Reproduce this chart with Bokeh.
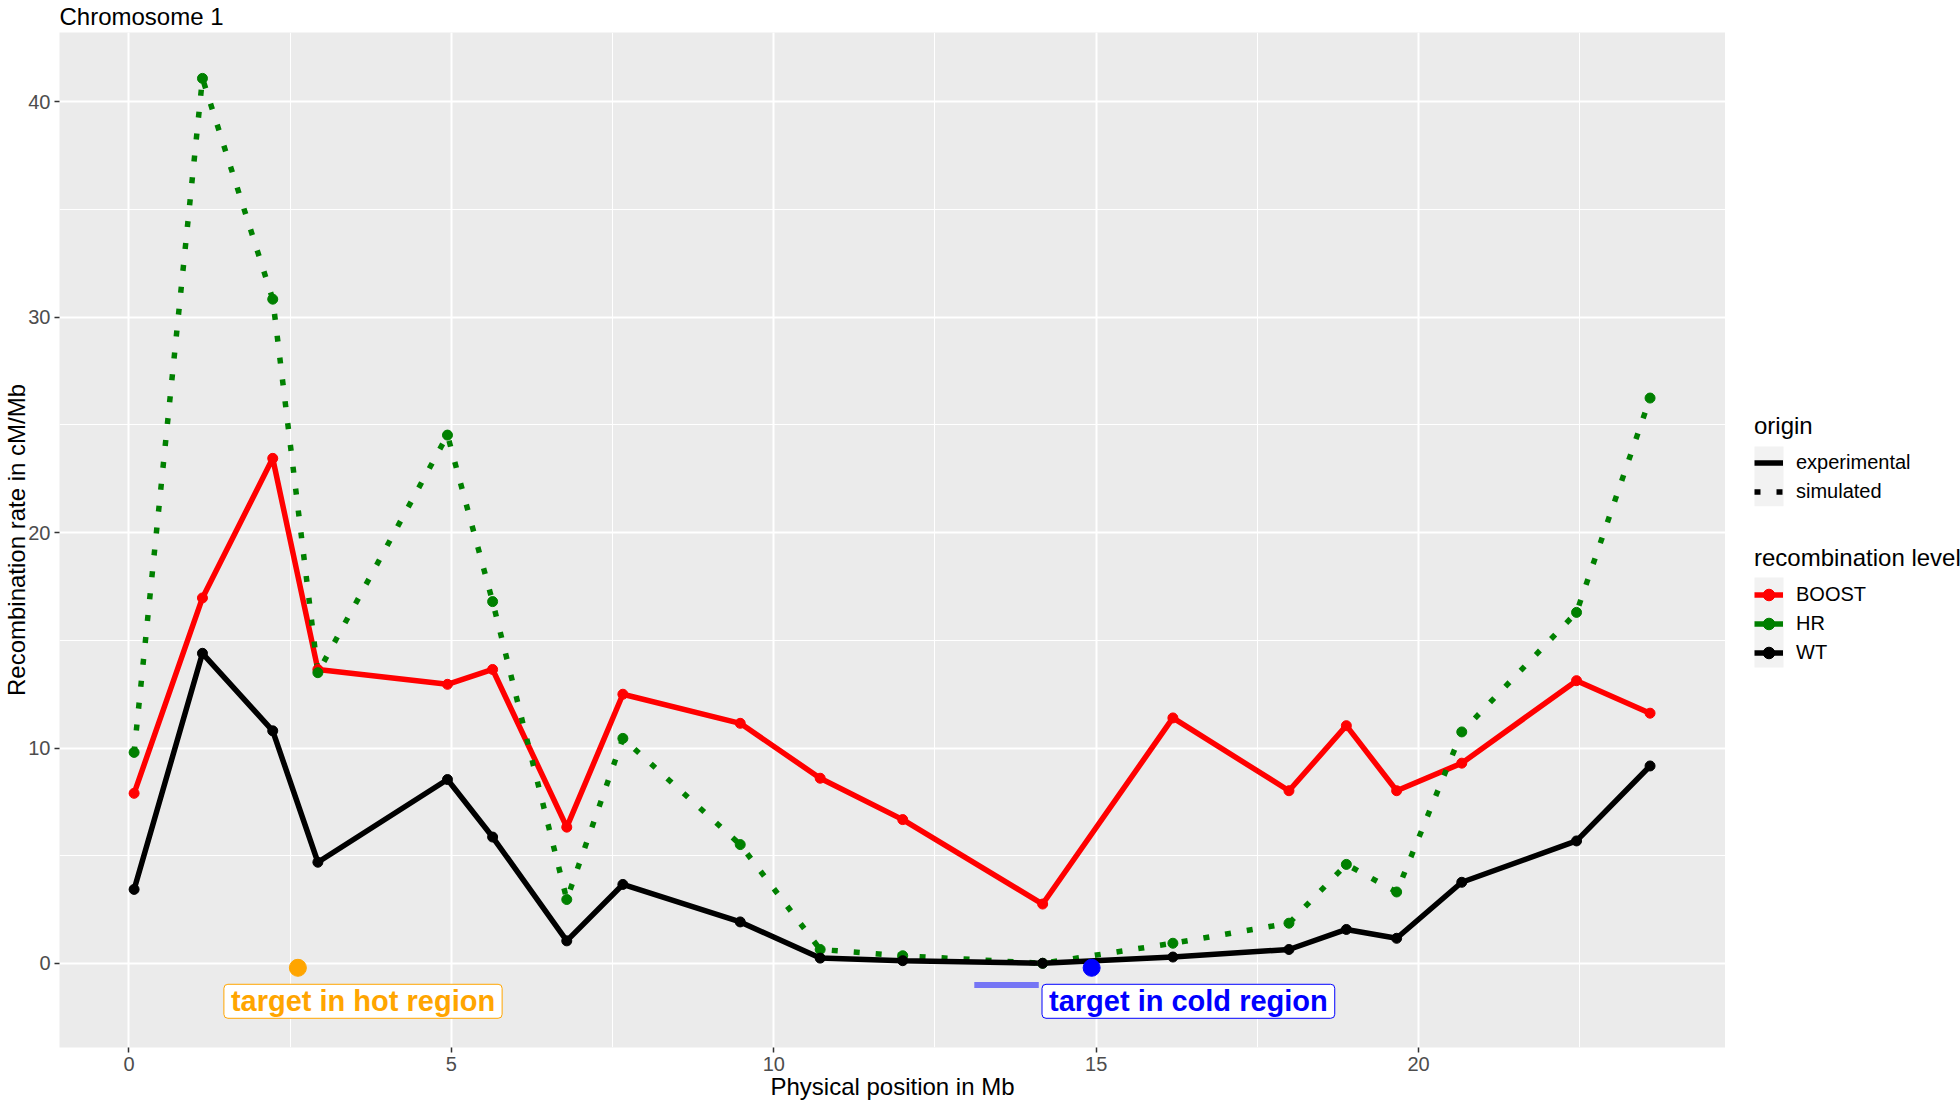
from bokeh.plotting import figure
from bokeh.layouts import row
from bokeh.models import (Range1d, SingleIntervalTicker, Label, Legend, LegendItem,
                          BoxAnnotation)
from bokeh.embed import file_html
from bokeh.resources import INLINE

# ---------------- data ----------------
positions = [0.08, 1.14, 2.23, 2.93, 4.94, 5.64, 6.79, 7.66, 9.48, 10.72, 12.0,
             14.17, 16.19, 17.99, 18.88, 19.66, 20.67, 22.45, 23.59]
boost = [7.9, 16.97, 23.45, 13.65, 12.96, 13.65, 6.33, 12.5, 11.15, 8.6, 6.68,
         2.76, 11.4, 8.02, 11.04, 8.02, 9.3, 13.13, 11.62]
hr = [9.8, 41.09, 30.84, 13.5, 24.53, 16.8, 2.97, 10.45, 5.52, 0.65, 0.36,
      0.01, 0.94, 1.87, 4.6, 3.32, 10.75, 16.3, 26.25]
wt = [3.44, 14.4, 10.8, 4.7, 8.54, 5.87, 1.05, 3.67, 1.93, 0.25, 0.13,
      0.01, 0.3, 0.65, 1.58, 1.17, 3.77, 5.69, 9.17]

level_names = ["BOOST", "HR", "WT"]
origin_names = ["experimental", "simulated"]

hot_target_x = [2.62]
hot_target_y = [-0.2]
cold_target_x = [14.93]
cold_target_y = [-0.2]
cold_segment_x = [13.11, 14.11]
cold_segment_y = [-1.0, -1.0]
hot_label_xy = (3.63, -1.755)
cold_label_xy = (16.43, -1.755)
hot_label_text = "target in hot region"
cold_label_text = "target in cold region"

title_text = "Chromosome 1"
x_title = "Physical position in Mb"
y_title = "Recombination rate in cM/Mb"

# ---------------- main figure ----------------
FONT = "Liberation Sans"
GREEN = "#008000"
LW = 5.5
DOT = "6 16"
BT, BB = 32, 55

p = figure(width=1725, height=1102, x_range=Range1d(-1.077, 24.76), y_range=Range1d(-3.9, 43.22),
           output_backend="svg", toolbar_location=None,
           min_border_left=59, min_border_right=0, min_border_top=BT, min_border_bottom=BB,
           background_fill_color="#ebebeb", border_fill_color="white",
           outline_line_color=None)

p.title.text = title_text
p.title.text_font = FONT
p.title.text_font_size = "24px"
p.title.text_font_style = "normal"
p.title.text_color = "black"
p.title.align = "left"
p.title.vertical_align = "top"
p.title.offset = 0
p.title.standoff = 2

xt = SingleIntervalTicker(interval=5, num_minor_ticks=2)
yt = SingleIntervalTicker(interval=10, num_minor_ticks=2)
p.xaxis.ticker = xt
p.xgrid.ticker = xt
p.yaxis.ticker = yt
p.ygrid.ticker = yt

for g in (p.xgrid, p.ygrid):
    g.grid_line_color = "white"
    g.grid_line_width = 2
    g.minor_grid_line_color = "white"
    g.minor_grid_line_width = 1

for ax, lab in ((p.xaxis, x_title), (p.yaxis, y_title)):
    ax.axis_line_color = None
    ax.major_tick_line_color = "#333333"
    ax.major_tick_line_width = 1.5
    ax.major_tick_out = 5
    ax.major_tick_in = 0
    ax.minor_tick_line_color = None
    ax.major_label_text_font_size = "20px"
    ax.major_label_text_color = "#4d4d4d"
    ax.major_label_text_font = FONT
    ax.major_label_standoff = 4
    ax.axis_label = lab
    ax.axis_label_text_font = FONT
    ax.axis_label_text_font_size = "24px"
    ax.axis_label_text_font_style = "normal"
    ax.axis_label_text_color = "black"
p.xaxis.axis_label_standoff = -1
p.yaxis.axis_label_standoff = -5

# lines
p.line(positions, boost, line_color="red", line_width=LW)
p.line(positions, hr, line_color=GREEN, line_width=LW, line_dash=DOT)
p.line(positions, wt, line_color="black", line_width=LW)
# points
p.scatter(positions, boost, size=10, color="red")
p.scatter(positions, hr, size=10, color=GREEN)
p.scatter(positions, wt, size=10, color="black")

# targets
p.line(cold_segment_x, cold_segment_y, line_color="blue", line_alpha=0.5, line_width=6)
p.scatter(hot_target_x, hot_target_y, size=17, color="orange")
p.scatter(cold_target_x, cold_target_y, size=17, color="blue")

for (lx, ly), txt, col in ((hot_label_xy, hot_label_text, "orange"),
                           (cold_label_xy, cold_label_text, "blue")):
    p.add_layout(Label(x=lx, y=ly, text=txt, text_color=col, text_font=FONT,
                       text_font_style="bold", text_font_size="29px",
                       text_align="center", text_baseline="middle",
                       background_fill_color="white", border_line_color=col,
                       border_line_width=1, padding=(7, 1), border_radius=4))

# ---------------- legend figure ----------------
FB = 1102 - BB  # page y of the (aligned) frame bottom
lf = figure(width=235, height=1102, x_range=Range1d(0, 1), y_range=Range1d(0, 1),
            output_backend="svg", toolbar_location=None,
            x_axis_type=None, y_axis_type=None,
            min_border_left=0, min_border_right=0, min_border_top=BT, min_border_bottom=BB,
            background_fill_color="white", border_fill_color="white",
            outline_line_color=None)
lf.xgrid.visible = False
lf.ygrid.visible = False

KX = 29
for top, bot in ((446, 505.7), (577, 667)):
    lf.add_layout(BoxAnnotation(left=KX, right=KX + 29, bottom=FB - bot, top=FB - top,
                                left_units="screen", right_units="screen",
                                bottom_units="screen", top_units="screen",
                                fill_color="#f2f2f2", fill_alpha=1, line_alpha=0))

off = [-10]
exp_r = lf.line(off, off, line_color="black", line_width=LW)
sim_r = lf.line(off, off, line_color="black", line_width=LW, line_dash=DOT)
lvl_items = []
for name, col in zip(level_names, ["red", GREEN, "black"]):
    lr = lf.line(off, off, line_color=col, line_width=LW)
    sr = lf.scatter(off, off, size=10, color=col)
    lvl_items.append(LegendItem(label=name, renderers=[lr, sr]))
orig_items = [LegendItem(label=origin_names[0], renderers=[exp_r]),
              LegendItem(label=origin_names[1], renderers=[sim_r])]


def mk_legend(title, items, bottom_page_y):
    lg = Legend(items=items, title=title, location=(KX, FB - bottom_page_y),
                orientation="vertical",
                padding=0, margin=0, spacing=0, glyph_width=29, glyph_height=29,
                label_height=29, label_standoff=13, title_standoff=8,
                background_fill_alpha=0, border_line_alpha=0,
                label_text_font_size="20px", label_text_font=FONT, label_text_color="black",
                title_text_font_size="24px", title_text_font=FONT, title_text_color="black",
                title_text_font_style="normal", label_text_baseline="middle")
    lf.add_layout(lg, "center")


mk_legend("origin", orig_items, 505.5)
mk_legend("recombination level", lvl_items, 667)

layout = row(p, lf, spacing=0)
open("out.html", "w").write(file_html(layout, INLINE))
